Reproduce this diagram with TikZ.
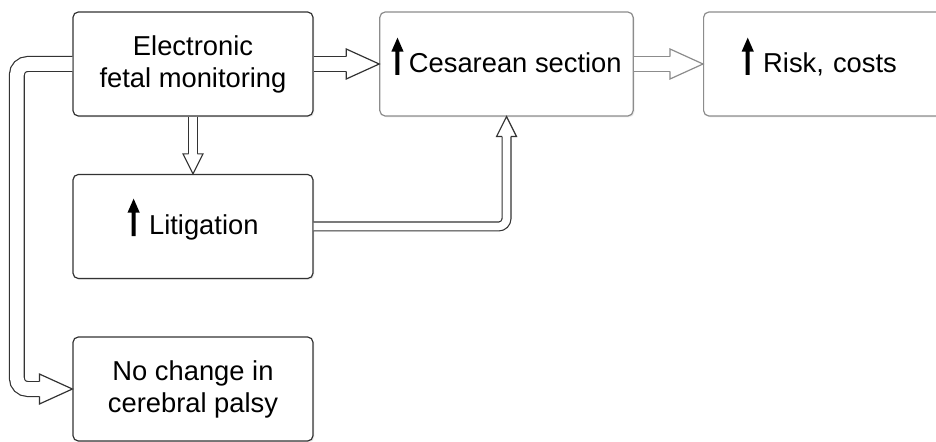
\documentclass[tikz,border=0pt]{standalone}
\usepackage{fontspec}
\setmainfont{Liberation Sans}
\usetikzlibrary{arrows.meta, positioning, shadows, calc}

% small black up arrow used in front of the labels
\newcommand{\upar}{\tikz[baseline=0pt, sharp corners]\fill[black] (-1.5pt,-1.5pt) rectangle (1.5pt,17pt) (-4.6pt,16pt) -- (0pt,26.5pt) -- (4.6pt,16pt) -- cycle;}
% open head of a hollow arrow: [style]{tip}{angle}{length}{half width}{half shaft}
\newcommand{\fathead}[6][]{\draw[line width=0.9pt, draw=black!80, fill=white, line join=miter, #1,
    shift={(#2)}, rotate=#3] (-#4,#6) -- (-#4,#5) -- (0,0) -- (-#4,-#5) -- (-#4,-#6);}

\begin{document}
\begin{tikzpicture}[x=0.75pt, y=-0.75pt,
    box/.style={draw=black!80, line width=0.9pt, rounded corners=4pt, fill=white,
                minimum width=180pt, minimum height=78pt, align=center,
                font=\fontsize{20.5pt}{24pt}\selectfont,
                drop shadow={opacity=0.15, shadow xshift=1pt, shadow yshift=-1pt}},
    greybox/.style={box, draw=black!45},
    fat/.style={draw=black!80, line width=0.9pt, double=white, double distance=10.2pt, shorten >=24pt},
    thin/.style={fat, double distance=5.7pt, shorten >=14.5pt},
    greyfat/.style={fat, draw=black!45}
]
\path[use as bounding box] (0,0) rectangle (936,442);

\node[box] (efm) at (193,64) {Electronic\\fetal monitoring};
\node[greybox, minimum width=190pt, text height=28pt, text depth=14.5pt] (ces) at (506.5,64)
    {\upar\hspace{4pt}Cesarean section};
\node[greybox, anchor=west, text width=135pt, inner xsep=28.5pt, align=left,
      text height=28pt, text depth=14.5pt] (risk) at (703,64) {\upar\hspace{7pt}Risk, costs};
\node[box, text height=28pt, text depth=16.75pt] (lit) at (193,226.5)
    {\upar\hspace{7pt}Litigation};
\node[box] (noch) at (193,389) {No change in\\cerebral palsy};

% hollow arrows: shaft, then head
\draw[fat] (efm) -- (ces);
\fathead{ces.west}{0}{33}{15}{7.4}
\draw[greyfat] (ces) -- (risk);
\fathead[draw=black!45]{risk.west}{0}{33}{15}{7.4}
\draw[thin] (efm) -- (lit);
\fathead{lit.north}{-90}{20}{10}{4.4}
\draw[thin, rounded corners=6pt] (lit.east) -| (ces.south);
\fathead{ces.south}{90}{20}{10}{4.4}
\draw[fat, rounded corners=8pt] (efm.west) -- ++(-55.5,0) |- (noch.west);
\fathead{noch.west}{0}{33}{15}{7.4}
\end{tikzpicture}
\end{document}
